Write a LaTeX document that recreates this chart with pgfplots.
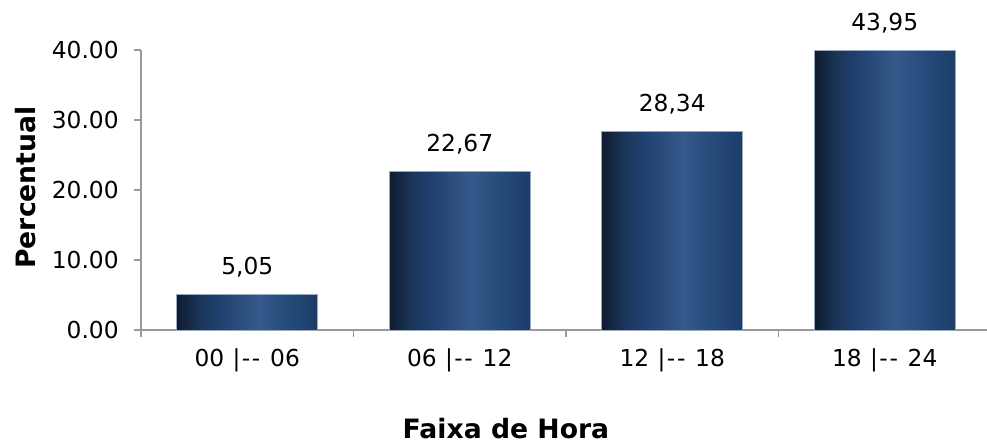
\documentclass[border=0pt]{standalone}
\usepackage{fontspec}
\setmainfont{DejaVu Sans}
\usepackage{pgfplots}
\pgfplotsset{compat=1.18}
\definecolor{ca}{HTML}{0F1B2F}
\definecolor{cb}{HTML}{1A3457}
\definecolor{cc}{HTML}{1F4170}
\definecolor{cd}{HTML}{35598A}
\definecolor{ce}{HTML}{244A7A}
\definecolor{cf}{HTML}{1D3C68}
\definecolor{barborder}{HTML}{9AAABF}
\definecolor{axgray}{HTML}{999999}
\pgfdeclarehorizontalshading{barshade}{100bp}{color(0bp)=(ca); color(25bp)=(ca); color(32.5bp)=(cb); color(40bp)=(cc); color(54bp)=(cd); color(65bp)=(ce); color(75bp)=(cf); color(100bp)=(cf)}
\newcommand\rng[2]{#1\hspace{0.36em}|\kern0.06em-\kern0.07em-\kern0.06em\hspace{0.36em}#2}
\begin{document}
\begin{tikzpicture}[font=\fontsize{17.5}{21}\selectfont]
\useasboundingbox (-105.75pt,-84.75pt) rectangle (634.5pt,247.5pt);
\begin{axis}[
  at={(0,0)}, anchor=south west,
  scale only axis, width=637.5pt, height=210pt,
  xmin=-0.5, xmax=3.5, ymin=0, ymax=40,
  axis lines*=left,
  axis line style={draw=axgray, line width=1pt},
  tick align=outside, major tick length=5.25pt,
  ytick={0,10,20,30,40},
  ytick style={draw=axgray, line width=1pt},
  yticklabel style={xshift=-8pt, /pgf/number format/.cd, fixed, fixed zerofill, precision=2},
  /pgf/number format/assume math mode=true,
  xtick={0,1,2,3},
  xticklabels={\rng{00}{06}, \rng{06}{12}, \rng{12}{18}, \rng{18}{24}},
  xticklabel style={yshift=-5.5pt},
  xtick style={draw=none},
  extra x ticks={-0.5,0.5,1.5,2.5},
  extra x tick labels={},
  extra x tick style={xtick style={draw=axgray, line width=1pt}},
  clip=false,
  ylabel={\fontsize{20}{24}\selectfont\textbf{Percentual}},
  xlabel={\fontsize{20}{24}\selectfont\textbf{Faixa de Hora}},
  ylabel style={at={(axis description cs:-0.1247,0.509)}, anchor=base},
  xlabel style={at={(axis description cs:0.4294,-0.3857)}, anchor=base},
]
\addplot[ybar, bar width=0.663, shading=barshade, draw=barborder, line width=0.5pt] coordinates {(0,5.05)};
\addplot[ybar, bar width=0.663, shading=barshade, draw=barborder, line width=0.5pt] coordinates {(1,22.67)};
\addplot[ybar, bar width=0.663, shading=barshade, draw=barborder, line width=0.5pt] coordinates {(2,28.34)};
\addplot[ybar, bar width=0.663, shading=barshade, draw=barborder, line width=0.5pt, restrict y to domain*=0:40] coordinates {(3,43.95)};
\addplot[draw=none, mark=none, nodes near coords, point meta=explicit symbolic,
  nodes near coords style={anchor=base, yshift=15pt, text=black}]
  coordinates {(0,5.05)[5,05] (1,22.67)[22,67] (2,28.34)[28,34] (3,40)[43,95]};
\end{axis}
\end{tikzpicture}
\end{document}
